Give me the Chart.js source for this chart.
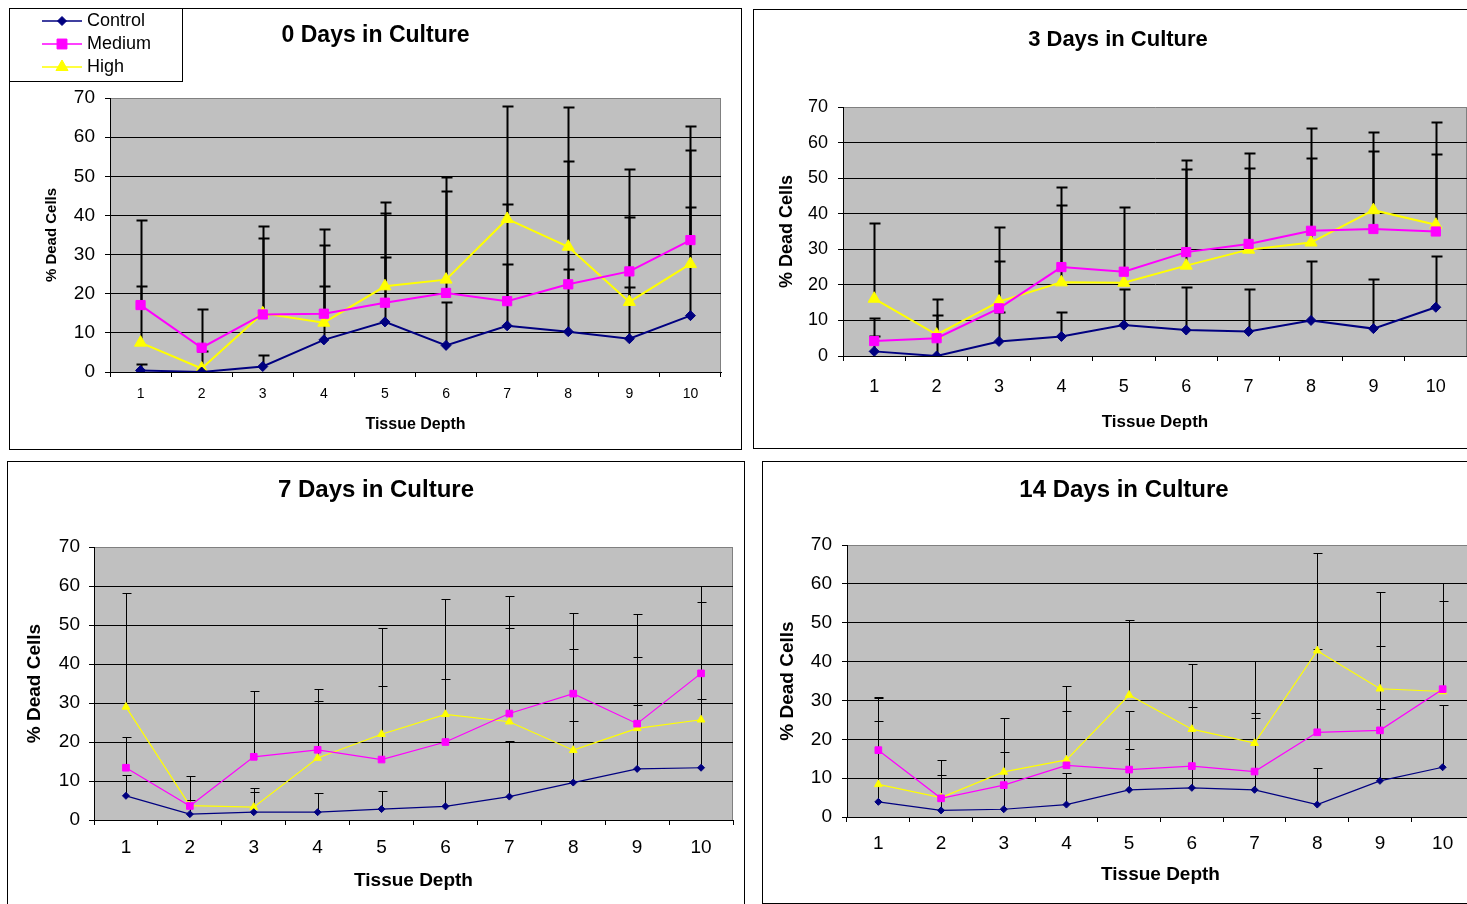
<!DOCTYPE html>
<html>
<head>
<meta charset="utf-8">
<title>% Dead Cells by Tissue Depth</title>
<script src="https://cdn.jsdelivr.net/npm/chart.js"></script>
<style>
    html, body { margin: 0; padding: 0; background: #fff; }
    body { width: 1467px; height: 904px; overflow: hidden; position: relative; }
    .frame { position: absolute; border: 1px solid #000; box-sizing: border-box; }
    .frame canvas { position: absolute; left: 0; top: 0; }
</style>
</head>
<body>
<div class="frame" style="left:9px;top:8px;width:733px;height:442px"><canvas id="chart0" width="731" height="440"></canvas></div>
<div class="frame" style="left:753px;top:9px;width:730px;height:440px"><canvas id="chart1" width="728" height="438"></canvas></div>
<div class="frame" style="left:7px;top:461px;width:738px;height:454px"><canvas id="chart2" width="736" height="452"></canvas></div>
<div class="frame" style="left:762px;top:461px;width:724px;height:443px"><canvas id="chart3" width="722" height="441"></canvas></div>

<script>
// Chart data
const depthLabels = ['1', '2', '3', '4', '5', '6', '7', '8', '9', '10'];
const yTickValues = [0, 10, 20, 30, 40, 50, 60, 70];
const seriesNames = ['Control', 'Medium', 'High'];
const panelTitles = ['0 Days in Culture', '3 Days in Culture', '7 Days in Culture', '14 Days in Culture'];
const xAxisTitle = 'Tissue Depth';
const yAxisTitle = '% Dead Cells';

// 0 days
const day0Control = [0.4, 0, 1.4, 8.2, 12.8, 6.8, 11.8, 10.3, 8.5, 14.4];
const day0Medium = [17.1, 6.2, 14.7, 14.9, 17.7, 20.2, 18.1, 22.4, 25.7, 33.7];
const day0High = [7.5, 0.9, 15.0, 12.6, 21.9, 23.6, 39.1, 32.0, 17.9, 27.6];
// top of the (plus only) error bars
const day0ControlUpper = [2.1, 5.4, 4.3, 21.9, 29.5, 17.9, 27.6, 26.3, 21.6, 42.1];
const day0MediumUpper = [21.9, 16.2, 34.2, 32.4, 40.7, 46.3, 42.9, 54.0, 39.7, 56.8];
const day0HighUpper = [38.9, null, 37.4, 36.6, 43.5, 49.8, 68.0, 67.6, 51.9, 62.9];

// 3 days
const day3Control = [1.3, 0, 4.1, 5.5, 8.7, 7.3, 6.9, 10.0, 7.7, 13.7];
const day3Medium = [4.2, 5.0, 13.4, 25.0, 23.7, 29.2, 31.5, 35.2, 35.7, 35.0];
const day3High = [16.1, 6.0, 15.3, 20.7, 20.6, 25.4, 29.9, 31.9, 41.0, 36.9];
const day3ControlUpper = [5.5, 11.6, 12.5, 12.4, 18.9, 19.3, 18.9, 26.7, 21.7, 28.1];
const day3MediumUpper = [10.6, 16.1, 26.7, 42.4, 41.8, 52.5, 52.9, 55.7, 57.6, 56.7];
const day3HighUpper = [37.3, null, 36.3, 47.4, null, 55.2, 57.1, 64.0, 63.1, 65.8];

// 7 days
const day7Control = [6.2, 1.5, 2.0, 2.0, 2.8, 3.5, 6.0, 9.6, 13.1, 13.4];
const day7Medium = [13.4, 3.6, 16.2, 18.0, 15.5, 20.0, 27.3, 32.4, 24.7, 37.6];
const day7High = [29.0, 3.7, 3.3, 15.9, 22.0, 27.1, 25.2, 17.9, 23.5, 25.7];
const day7ControlUpper = [11.5, 5.2, 7.2, 6.9, 7.4, 9.9, 20.2, 25.5, 29.4, 30.9];
const day7MediumUpper = [21.3, 11.2, 33.1, 33.5, 34.3, 36.2, 49.2, 53.1, 52.8, 59.9];
const day7HighUpper = [58.2, null, 8.2, 30.6, 49.2, 56.7, 57.5, 43.8, 41.7, 56.0];

// 14 days
const day14Control = [3.9, 1.7, 2.0, 3.2, 7.0, 7.5, 7.0, 3.2, 9.3, 12.8];
const day14Medium = [17.2, 4.8, 8.2, 13.3, 12.2, 13.1, 11.7, 21.8, 22.3, 32.9];
const day14High = [8.4, 5.0, 11.6, 14.7, 31.4, 22.6, 19.0, 42.8, 33.0, 32.3];
const day14ControlUpper = [24.6, 10.8, 16.6, 11.4, 17.4, 28.4, 25.4, 12.6, 27.9, 28.7];
const day14MediumUpper = [30.8, 14.7, null, 27.4, 27.2, 30.2, 26.8, 43.3, 43.9, 55.6];
const day14HighUpper = [30.6, null, 25.5, 33.6, 50.7, 39.5, 40.2, 67.9, 57.8, 60.2];

// Styles
const FONT = 'Arial, "Liberation Sans", Helvetica, sans-serif';
const seriesColors = ['#000080', '#ff00ff', '#ffff00'];
const pointStyles = ['rectRot', 'rect', 'triangle'];

// Panel layout, in canvas pixels
const panelLayouts = [
    { id: 'chart0', titleSize: 23, titleY: 27, plotLeft: 100, plotTop: 89, padRight: 20, xHeight: 77,
      yTickSize: 19, yTickPad: 10, xTickSize: 14, xTickPad: 9, xTitleSize: 16, xTitlePad: 15,
      yTitleSize: 15, yTitlePad: 33, lineWidth: 2, radius: [5, 6.5, 7], errWidth: 2, cap: 5 },
    { id: 'chart1', titleSize: 22, titleY: 30, plotLeft: 89, plotTop: 97, padRight: 15, xHeight: 92,
      yTickSize: 18, yTickPad: 10, xTickSize: 18, xTickPad: 15, xTitleSize: 17, xTitlePad: 15,
      yTitleSize: 18, yTitlePad: 22, lineWidth: 2, radius: [5, 6.5, 7], errWidth: 2, cap: 5 },
    { id: 'chart2', titleSize: 24, titleY: 28, plotLeft: 86, plotTop: 85, padRight: 11, xHeight: 94,
      yTickSize: 19, yTickPad: 9, xTickSize: 19, xTickPad: 11, xTitleSize: 19, xTitlePad: 22,
      yTitleSize: 19, yTitlePad: 15, lineWidth: 1.2, radius: [3.5, 4.7, 4.5], errWidth: 1, cap: 4 },
    { id: 'chart3', titleSize: 24, titleY: 28, plotLeft: 84, plotTop: 83, padRight: 11, xHeight: 86,
      yTickSize: 19, yTickPad: 10, xTickSize: 19, xTickPad: 10, xTitleSize: 19, xTitlePad: 17,
      yTitleSize: 19, yTitlePad: 13, lineWidth: 1.2, radius: [3.5, 4.7, 4.5], errWidth: 1, cap: 4 }
];

function drawMarker(ctx, style, radius, x, y) {
    if (Chart.helpers && Chart.helpers.drawPoint) {
        Chart.helpers.drawPoint(ctx, { pointStyle: style, radius: radius, rotation: 0, borderWidth: 1 }, x, y);
        return;
    }
    ctx.beginPath();
    if (style === 'rect') {
        const s = radius * Math.SQRT1_2;
        ctx.rect(x - s, y - s, 2 * s, 2 * s);
    } else if (style === 'rectRot') {
        ctx.moveTo(x, y - radius); ctx.lineTo(x + radius, y); ctx.lineTo(x, y + radius); ctx.lineTo(x - radius, y);
        ctx.closePath();
    } else {
        ctx.moveTo(x, y - radius); ctx.lineTo(x + radius * 0.866, y + radius * 0.5); ctx.lineTo(x - radius * 0.866, y + radius * 0.5);
        ctx.closePath();
    }
    ctx.fill();
    ctx.stroke();
}

// grey plot area like the old Excel charts
const plotBackground = {
    id: 'plotBackground',
    beforeDraw(chart) {
        const { ctx, chartArea: a } = chart;
        ctx.save();
        ctx.fillStyle = '#c0c0c0';
        ctx.fillRect(a.left, a.top, a.right - a.left, a.bottom - a.top);
        ctx.strokeStyle = '#808080';
        ctx.lineWidth = 1;
        ctx.beginPath();
        ctx.moveTo(Math.round(a.right) - 0.5, a.top);
        ctx.lineTo(Math.round(a.right) - 0.5, a.bottom);
        ctx.stroke();
        ctx.restore();
    }
};

// plus-only error bars, drawn under the lines
const errorBars = {
    id: 'errorBars',
    beforeDatasetsDraw(chart, args, opts) {
        const { ctx, scales } = chart;
        ctx.save();
        ctx.strokeStyle = '#000';
        ctx.lineWidth = opts.width;
        chart.data.datasets.forEach(function (ds) {
            ds.upper.forEach(function (top, j) {
                if (top === null) return;
                const px = Math.round(scales.x.getPixelForValue(j)) + 0.5;
                const y0 = scales.y.getPixelForValue(ds.data[j]);
                const y1 = Math.round(scales.y.getPixelForValue(top)) + 0.5;
                ctx.beginPath();
                ctx.moveTo(px, y0);
                ctx.lineTo(px, y1);
                ctx.moveTo(px - opts.cap, y1);
                ctx.lineTo(px + opts.cap + 1, y1);
                ctx.stroke();
            });
        });
        ctx.restore();
    }
};

const panelTitle = {
    id: 'panelTitle',
    afterDraw(chart, args, opts) {
        const ctx = chart.ctx;
        ctx.save();
        ctx.font = 'bold ' + opts.size + 'px ' + FONT;
        ctx.fillStyle = '#000';
        ctx.textAlign = 'center';
        ctx.textBaseline = 'middle';
        ctx.fillText(opts.text, chart.width / 2, opts.y);
        ctx.restore();
    }
};

// boxed legend in the corner of the first panel
const cornerLegend = {
    id: 'cornerLegend',
    afterDraw(chart) {
        const ctx = chart.ctx;
        const legendRadius = [4.5, 7, 7];
        ctx.save();
        ctx.fillStyle = '#fff';
        ctx.fillRect(0, 0, 172, 72);
        ctx.strokeStyle = '#000';
        ctx.lineWidth = 1;
        ctx.strokeRect(-0.5, -0.5, 173, 73);
        chart.data.datasets.forEach(function (ds, i) {
            const y = 12 + i * 23;
            ctx.strokeStyle = ds.borderColor;
            ctx.lineWidth = 1.5;
            ctx.beginPath();
            ctx.moveTo(32, y);
            ctx.lineTo(72, y);
            ctx.stroke();
            ctx.fillStyle = ds.borderColor;
            ctx.lineWidth = 1;
            drawMarker(ctx, ds.pointStyle, legendRadius[i], 52, y);
            ctx.fillStyle = '#000';
            ctx.font = '18px ' + FONT;
            ctx.textAlign = 'left';
            ctx.textBaseline = 'middle';
            ctx.fillText(ds.label, 77, y);
        });
        ctx.restore();
    }
};

function makeChart(p, title, sets, withLegend) {
    const ctx = document.getElementById(p.id).getContext('2d');
    const datasets = sets.map(function (s, i) {
        return {
            label: seriesNames[i],
            data: s[0],
            upper: s[1],
            borderColor: seriesColors[i],
            backgroundColor: seriesColors[i],
            pointBackgroundColor: seriesColors[i],
            pointBorderColor: seriesColors[i],
            pointStyle: pointStyles[i],
            pointRadius: p.radius[i],
            pointBorderWidth: 1,
            borderWidth: p.lineWidth,
            tension: 0
        };
    });
    const plugins = [plotBackground, errorBars, panelTitle];
    if (withLegend) plugins.push(cornerLegend);

    return new Chart(ctx, {
        type: 'line',
        data: { labels: depthLabels, datasets: datasets },
        options: {
            responsive: false,
            animation: false,
            layout: { padding: { left: 0, top: p.plotTop, right: p.padRight, bottom: 0 } },
            scales: {
                x: {
                    offset: true,
                    grid: { offset: true, drawOnChartArea: false, drawTicks: true, tickLength: 5, color: '#000' },
                    border: { color: '#000', width: 1 },
                    ticks: { color: '#000', font: { size: p.xTickSize }, padding: p.xTickPad, maxRotation: 0, autoSkip: false },
                    title: {
                        display: true,
                        text: xAxisTitle,
                        color: '#000',
                        font: { size: p.xTitleSize, weight: 'bold' },
                        padding: { top: 0, bottom: p.xTitlePad }
                    },
                    afterFit: function (scale) { scale.height = p.xHeight; }
                },
                y: {
                    min: yTickValues[0],
                    max: yTickValues[yTickValues.length - 1],
                    ticks: { stepSize: 10, color: '#000', font: { size: p.yTickSize }, padding: p.yTickPad },
                    grid: {
                        color: function (c) {
                            return c.tick && c.tick.value === yTickValues[yTickValues.length - 1] ? '#808080' : '#000';
                        },
                        tickColor: '#000',
                        tickLength: 5,
                        lineWidth: 1
                    },
                    border: { color: '#000', width: 1 },
                    title: {
                        display: true,
                        text: yAxisTitle,
                        color: '#000',
                        font: { size: p.yTitleSize, weight: 'bold' },
                        padding: { top: p.yTitlePad, bottom: 0 }
                    },
                    afterFit: function (scale) { scale.width = p.plotLeft; }
                }
            },
            plugins: {
                legend: { display: false },
                tooltip: { enabled: false },
                errorBars: { width: p.errWidth, cap: p.cap },
                panelTitle: { text: title, size: p.titleSize, y: p.titleY }
            }
        },
        plugins: plugins
    });
}

document.addEventListener('DOMContentLoaded', function () {
    Chart.defaults.font.family = FONT;
    Chart.defaults.color = '#000';

    makeChart(panelLayouts[0], panelTitles[0], [
        [day0Control, day0ControlUpper], [day0Medium, day0MediumUpper], [day0High, day0HighUpper]
    ], true);
    makeChart(panelLayouts[1], panelTitles[1], [
        [day3Control, day3ControlUpper], [day3Medium, day3MediumUpper], [day3High, day3HighUpper]
    ], false);
    makeChart(panelLayouts[2], panelTitles[2], [
        [day7Control, day7ControlUpper], [day7Medium, day7MediumUpper], [day7High, day7HighUpper]
    ], false);
    makeChart(panelLayouts[3], panelTitles[3], [
        [day14Control, day14ControlUpper], [day14Medium, day14MediumUpper], [day14High, day14HighUpper]
    ], false);
});
</script>
</body>
</html>
